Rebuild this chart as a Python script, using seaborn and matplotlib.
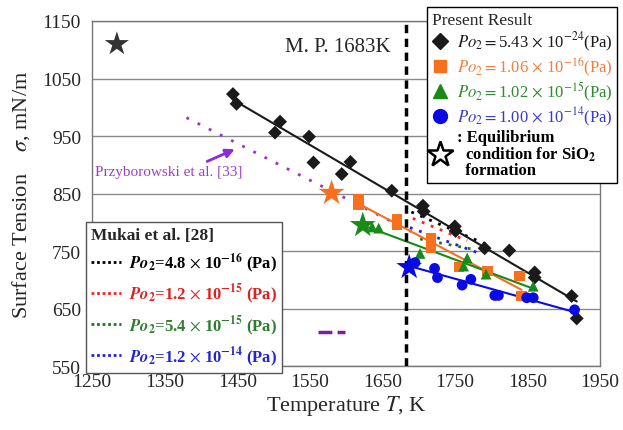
import numpy as np
import matplotlib.pyplot as plt
import seaborn as sns
from matplotlib.lines import Line2D

# --- present result, measured points (T in K, sigma in mN/m) ---
black_T = [1444, 1449, 1502, 1509, 1549, 1555, 1594, 1606, 1663, 1706, 1707,
           1750, 1751, 1791, 1825, 1860, 1860, 1911, 1918]
black_sigma = [1023, 1006, 956, 975, 949, 904, 884, 905, 855, 829, 819,
               793, 785, 755, 751, 713, 704, 672, 633]

orange_T = [1617, 1617, 1670, 1670, 1717, 1717, 1756, 1795, 1839, 1842]
orange_sigma = [840, 830, 805, 795, 772, 755, 722, 715, 707, 672]

green_T = [1636, 1645, 1702, 1762, 1767, 1793, 1858]
green_sigma = [792, 790, 746, 724, 738, 710, 689]

blue_T = [1695, 1722, 1726, 1760, 1772, 1805, 1810, 1849, 1858, 1915]
blue_sigma = [730, 720, 704, 691, 701, 673, 673, 669, 669, 648]

# equilibrium condition for SiO2 formation (stars)
star_T = [1580, 1623, 1687]
star_sigma = [851, 795, 722]

# --- literature lines ---
przy_T = [1380, 1690]
przy_sigma = [982, 784]

mukai_T = {"black": [1690, 1800], "red": [1692, 1767],
           "green": [1702, 1776], "blue": [1688, 1780]}
mukai_sigma = {"black": [818, 758], "red": [807, 768],
               "green": [771, 753], "blue": [791, 748]}

MP = 1683

present_labels = [
    r"$Po_2$$=$5.43 $\times$ 10$^{-24}$(Pa)",
    r"$Po_2$$=$1.06 $\times$ 10$^{-16}$(Pa)",
    r"$Po_2$$=$1.02 $\times$ 10$^{-15}$(Pa)",
    r"$Po_2$$=$1.00 $\times$ 10$^{-14}$(Pa)",
]
mukai_labels = [
    r"$\mathbfit{Po}_\mathbf{2}$=4.8 $\times$ 10$^{\mathbf{-16}}$ (Pa)",
    r"$\mathbfit{Po}_\mathbf{2}$=1.2 $\times$ 10$^{\mathbf{-15}}$ (Pa)",
    r"$\mathbfit{Po}_\mathbf{2}$=5.4 $\times$ 10$^{\mathbf{-15}}$ (Pa)",
    r"$\mathbfit{Po}_\mathbf{2}$=1.2 $\times$ 10$^{\mathbf{-14}}$ (Pa)",
]

# colours
C_BLACK = "#1a1a1a"
C_ORANGE = "#F7701E"
C_GREEN = "#178A17"
C_BLUE = "#0A0AE6"
C_PURPLE = "#9B30C8"

sns.set_style("white")
plt.rcParams["font.family"] = ["Liberation Serif", "DejaVu Serif"]
plt.rcParams["mathtext.fontset"] = "stix"

fig = plt.figure(figsize=(6.23, 4.31), dpi=100)
ax = fig.add_axes([0.148, 0.148, 0.815, 0.801])

# regression lines
for xs, ys, c in [(black_T, black_sigma, C_BLACK),
                  (orange_T, orange_sigma, C_ORANGE),
                  (green_T + [star_T[1]], green_sigma + [star_sigma[1]], C_GREEN),
                  (blue_T + [star_T[2]], blue_sigma + [star_sigma[2]], C_BLUE)]:
    sns.regplot(x=np.array(xs), y=np.array(ys), ci=None, scatter=False,
                truncate=True, ax=ax, line_kws=dict(color=c, lw=1.5, zorder=3))

# Mukai dotted lines
for key, c in [("black", "black"), ("red", "#FF2020"),
               ("green", "#1a7a1a"), ("blue", "#2020E0")]:
    sns.lineplot(x=mukai_T[key], y=mukai_sigma[key], color=c, lw=2,
                 ls=(0, (1, 2.5)), ax=ax, zorder=2)

# Przyborowski
sns.lineplot(x=przy_T, y=przy_sigma, color=C_PURPLE, lw=2, ls=(0, (1, 3.5)),
             ax=ax, zorder=2)
sns.lineplot(x=[1561, 1598], y=[610, 610], color="#7B1FA2", lw=2.5,
             ls=(0, (4, 1.5)), ax=ax)

# measured points
sns.scatterplot(x=black_T, y=black_sigma, marker="D", s=50, color=C_BLACK,
                edgecolor="none", ax=ax, zorder=4)
sns.scatterplot(x=orange_T, y=orange_sigma, marker="s", s=55, color=C_ORANGE,
                edgecolor="none", ax=ax, zorder=4)
sns.scatterplot(x=green_T, y=green_sigma, marker="^", s=60, color=C_GREEN,
                edgecolor="none", ax=ax, zorder=4)
sns.scatterplot(x=blue_T, y=blue_sigma, marker="o", s=60, color=C_BLUE,
                edgecolor="none", ax=ax, zorder=4)
sns.scatterplot(x=star_T, y=star_sigma, marker="*", s=380,
                color=[C_ORANGE, C_GREEN, C_BLUE], edgecolor="none",
                ax=ax, zorder=5)
sns.scatterplot(x=[1284], y=[1110], marker="*", s=330, color="#333333",
                edgecolor="none", ax=ax, zorder=5)

# melting point
ax.axvline(MP, color="black", lw=2.5, ls=(0, (2.4, 1.6)), zorder=3)
ax.text(MP - 22, 1106, "M. P. 1683K", ha="right", va="center", fontsize=15)

# Przyborowski annotation
ax.annotate("", xy=(1450, 929), xytext=(1405, 904),
            arrowprops=dict(arrowstyle="-|>", color="#8A2BE2", lw=2,
                            mutation_scale=13))
ax.text(1254, 889, "Przyborowski et al. [33]", color="#9F3FBF",
        fontsize=11, va="center")

# axes styling
ax.set_xlim(1250, 1950)
ax.set_ylim(550, 1150)
ax.set_xticks(range(1250, 1951, 100))
ax.set_yticks(range(550, 1151, 100))
ax.yaxis.grid(True, color="#8a8a8a", lw=1)
ax.xaxis.grid(False)
ax.tick_params(axis="x", direction="in", length=5, color="#777777",
               labelsize=14, pad=5)
ax.tick_params(axis="y", length=0, labelsize=14, pad=8)
for sp in ax.spines.values():
    sp.set_color("#777777")
    sp.set_linewidth(1)
ax.set_xlabel(r"Temperature $T$, K", fontsize=16, labelpad=2)
ax.set_ylabel(r"Surface Tension    $\sigma$, mN/m", fontsize=16, labelpad=7)

# legend: present result
handles = [
    Line2D([], [], ls="none", marker="D", color=C_BLACK, ms=8),
    Line2D([], [], ls="none", marker="s", color=C_ORANGE, ms=9),
    Line2D([], [], ls="none", marker="^", color=C_GREEN, ms=10),
    Line2D([], [], ls="none", marker="o", color=C_BLUE, ms=10),
    Line2D([], [], ls="none", marker="*", mfc="white", mec="black",
           mew=1.8, ms=19),
]
labels = present_labels + [
    r": Equilibrium" + "\n" + r"  condition for SiO$_\mathbf{2}$" + "\n" + "  formation"]
leg1 = fig.legend(handles, labels, loc="upper left",
                  bbox_to_anchor=(0.685, 0.981), borderaxespad=0,
                  title="Present Result", alignment="left",
                  fontsize=12, title_fontsize=12.5,
                  frameon=True, fancybox=False, edgecolor="black",
                  framealpha=1, handlelength=1.0, handletextpad=0.5,
                  labelspacing=0.1, borderpad=0.3)
leg1.get_frame().set_linewidth(1)
for t, c in zip(leg1.get_texts(),
                [C_BLACK, "#F07F3C", "#2E8B2E", "#3A3AC8", "black"]):
    t.set_color(c)
leg1.get_texts()[-1].set_fontweight("bold")
leg1.get_texts()[-1].set_linespacing(0.95)

# legend: Mukai
m_handles = [Line2D([], [], color=c, lw=2, ls=(0, (1, 1)))
             for c in ["black", "#FF2020", "#1a7a1a", "#2020E0"]]
leg2 = fig.legend(m_handles, mukai_labels, loc="upper left",
                  bbox_to_anchor=(0.138, 0.483), borderaxespad=0,
                  title="Mukai et al. [28]", alignment="left",
                  prop={"weight": "bold", "size": 12},
                  title_fontproperties={"weight": "bold", "size": 12.5},
                  frameon=True, fancybox=False, edgecolor="#555555",
                  framealpha=1, handlelength=1.8, handletextpad=0.5,
                  labelspacing=0.45, borderpad=0.3)
for t, c in zip(leg2.get_texts(), ["black", "#E02020", "#2E7D2E", "#2525D0"]):
    t.set_color(c)

fig.savefig("out.png", dpi=100)
